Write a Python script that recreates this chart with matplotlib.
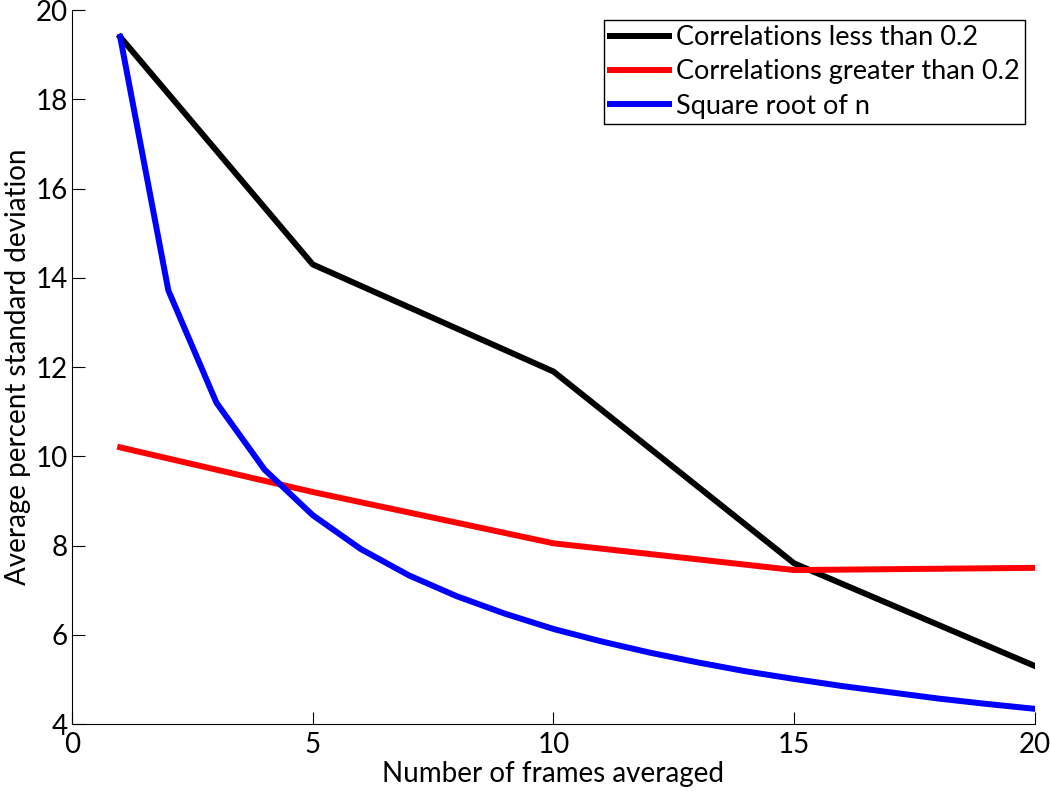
import matplotlib
matplotlib.use("Agg")
import matplotlib.pyplot as plt

plt.rcParams['font.family'] = ['Lato', 'DejaVu Sans']

frames_few = [1, 5, 10, 15, 20]
low_corr = [19.4, 14.3, 11.9, 7.6, 5.3]
high_corr = [10.2, 9.2, 8.05, 7.45, 7.5]

frames_all = list(range(1, 21))
sqrt_n = [19.4, 13.72, 11.2, 9.7, 8.68, 7.92, 7.33, 6.86, 6.47, 6.13,
          5.85, 5.6, 5.38, 5.18, 5.01, 4.85, 4.71, 4.57, 4.45, 4.34]

fig = plt.figure(figsize=(10.5, 7.91), dpi=100)
ax = fig.add_axes([0.0686, 0.0847, 0.917, 0.9025])

ax.plot(frames_few, low_corr, color='black', lw=4.3, label='Correlations less than 0.2')
ax.plot(frames_few, high_corr, color='red', lw=4.3, label='Correlations greater than 0.2')
ax.plot(frames_all, sqrt_n, color='blue', lw=4.3, label='Square root of n')

ax.set_xlim(0, 20)
ax.set_ylim(4, 20)
ax.set_xticks([0, 5, 10, 15, 20])
ax.set_yticks(range(4, 21, 2))
ax.spines['top'].set_visible(False)
ax.spines['right'].set_visible(False)
ax.tick_params(direction='in', length=9, labelsize=20)
ax.tick_params(axis='x', pad=6)
ax.tick_params(axis='y', pad=3)
ax.set_xlabel('Number of frames averaged', fontsize=20, labelpad=2)
ax.set_ylabel('Average percent standard deviation', fontsize=20, labelpad=3)

leg = ax.legend(loc='upper right', fontsize=19.5, fancybox=False, framealpha=1,
                edgecolor='black', borderpad=0.2, labelspacing=0.35,
                handlelength=2.2, handletextpad=0.25, borderaxespad=0.35)
leg.get_frame().set_linewidth(1)

fig.savefig('out.png', dpi=100)
